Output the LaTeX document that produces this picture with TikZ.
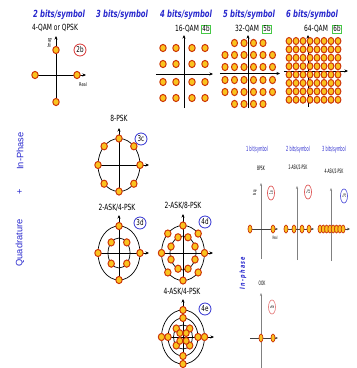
\documentclass[tikz,border=0pt]{standalone}
\usepackage{fontspec}
\usetikzlibrary{arrows.meta,shapes.geometric}
\newfontfamily\nsans[FakeStretch=0.7]{DejaVu Sans}
\newfontfamily\tsans[FakeStretch=0.5]{DejaVu Sans}
\newfontfamily\wsans{Liberation Sans}
\definecolor{ptfill}{RGB}{250,195,30}
\definecolor{ptdraw}{RGB}{205,55,10}
\definecolor{hdblue}{RGB}{40,40,205}
\definecolor{tagred}{RGB}{215,50,50}
\definecolor{tagblue}{RGB}{50,50,210}
\definecolor{taggreen}{RGB}{70,200,70}
\tikzset{
  dot/.style={fill=ptfill,draw=ptdraw,line width=1pt},
  axisarrow/.style={black,line width=0.8pt,-{Stealth[length=3.5pt,width=3pt]}},
  gaxis/.style={gray,line width=0.7pt,-{Stealth[length=3pt,width=2.2pt]}},
  haxis/.style={black!75,line width=1pt,-{Stealth[length=3pt,width=2.5pt]}},
  ring/.style={black,line width=0.7pt},
  header/.style={text=hdblue,font=\nsans\bfseries\itshape\fontsize{9.8}{10}\selectfont,inner sep=0pt},
  lbl/.style={font=\nsans\fontsize{8.5}{9}\selectfont,inner sep=0pt},
  tinylbl/.style={font=\tsans\fontsize{6}{6}\selectfont,inner sep=0pt},
  smallhd/.style={text=hdblue,font=\tsans\fontsize{7}{7}\selectfont,inner sep=0pt},
  ctag/.style={circle,line width=0.8pt,inner sep=0.6pt,minimum size=12pt,font=\nsans\fontsize{8}{8}\selectfont},
  btag/.style={draw=taggreen,line width=0.8pt,inner sep=1pt,font=\nsans\fontsize{8}{8}\selectfont},
  etag/.style={ellipse,line width=0.7pt,inner sep=0pt,minimum width=7pt,minimum height=14pt,font=\tsans\fontsize{5}{5}\selectfont},
  sidetxt/.style={text=hdblue,font=\wsans\fontsize{9.3}{10}\selectfont,rotate=90,inner sep=0pt},
}
\begin{document}
\begin{tikzpicture}[x=1pt,y=-1pt]
\useasboundingbox (0,0) rectangle (357,368);

% column headings
\node[header] (h2) at (59,15) {2 bits/symbol};
\node[header] (h3) at (122,15) {3 bits/symbol};
\node[header] (h4) at (186,15) {4 bits/symbol};
\node[header] (h5) at (249,15) {5 bits/symbol};
\node[header] (h6) at (312,15) {6 bits/symbol};

% side caption
\node[sidetxt] (qd) at (20,243) {Quadrature};
\node[sidetxt] (pl) at (20,192) {+};
\node[sidetxt] (ip) at (20,151) {In-Phase};

% ---- 4-QAM / QPSK
\node[lbl] (l2b) at (55,28) {4-QAM or QPSK};
\draw[axisarrow] (56,106) -- (56,36);
\draw[axisarrow] (35,75) -- (86,75);
\node[font=\nsans\fontsize{5}{5}\selectfont,rotate=90,inner sep=0pt] (im2b) at (49.5,43) {Imag};
\node[font=\nsans\fontsize{5}{5}\selectfont,inner sep=0pt] (re2b) at (83,85) {Real};
\foreach \x/\y in {56/50,35/75,77/75,56/102} \filldraw[dot] (\x,\y) ellipse (3.2pt and 3.6pt);
\node[ctag,draw=tagred] (t2b) at (80,50) {2b};

% ---- 16-QAM
\node[lbl] (l4b) at (187,29) {16-QAM};
\node[btag] (t4b) at (206,29) {4b};
\draw[axisarrow] (184,108) -- (184,35);
\draw[axisarrow] (156,74) -- (213,74);
\foreach \x in {163,176,192,205}
  \foreach \y in {48,64,82,98}
    \filldraw[dot] (\x,\y) ellipse (3.2pt and 3.6pt);

% ---- 32-QAM
\node[lbl] (l5b) at (247,29) {32-QAM};
\node[btag] (t5b) at (267,29) {5b};
\draw[axisarrow] (248,108) -- (248,35);
\draw[axisarrow] (220,73.5) -- (280,73.5);
\foreach \y in {55,67,80,92}
  \foreach \x in {225,234.5,244,253.5,263,272.5}
    \filldraw[dot] (\x,\y) ellipse (3pt and 3.6pt);
\foreach \y in {43,104}
  \foreach \x in {234.5,244,253.5,263}
    \filldraw[dot] (\x,\y) ellipse (3pt and 3.6pt);

% ---- 64-QAM
\node[lbl] (l6b) at (316,29) {64-QAM};
\node[btag] (t6b) at (337,29) {6b};
\draw[axisarrow] (308,107) -- (308,35);
\draw[axisarrow] (284,71) -- (348,71);
\foreach \i in {0,...,7}
  \foreach \j in {0,...,7}
    \filldraw[dot] ({289+7*\i},{41+8.4*\j}) ellipse (2.9pt and 3.5pt);

% ---- 8-PSK
\node[lbl] (l3c) at (119,118) {8-PSK};
\node[ctag,draw=tagblue] (t3c) at (141,139) {3c};
\draw[ring] (119,165) ellipse (21pt and 26.5pt);
\draw[axisarrow] (119,192) -- (119,128);
\draw[axisarrow] (98,165) -- (149,165);
\foreach \a in {0,45,...,315}
  \filldraw[dot] ({119+21*cos(\a)},{165+26.5*sin(\a)}) ellipse (3.2pt and 3.6pt);

% ---- 2-ASK/4-PSK
\node[lbl] (l3d) at (117,208) {2-ASK/4-PSK};
\node[ctag,draw=tagblue] (t3d) at (140,223) {3d};
\draw[ring] (119,253) ellipse (21pt and 27pt);
\draw[ring] (119,253) ellipse (11pt and 15pt);
\draw[axisarrow] (119,280) -- (119,215);
\draw[axisarrow] (98,253) -- (149,253);
\foreach \a in {0,90,180,270}
  \filldraw[dot] ({119+21*cos(\a)},{253+27*sin(\a)}) ellipse (3.2pt and 3.6pt);
\foreach \a in {45,135,225,315}
  \filldraw[dot] ({119+11*cos(\a)},{253+15*sin(\a)}) ellipse (3.2pt and 3.6pt);

% ---- 2-ASK/8-PSK
\node[lbl] (l4d) at (183,206) {2-ASK/8-PSK};
\node[ctag,draw=tagblue] (t4d) at (205,222) {4d};
\draw[ring] (183,253) ellipse (21.5pt and 27.5pt);
\draw[ring] (183,253) ellipse (13pt and 17pt);
\draw[axisarrow] (183,281) -- (183,214);
\draw[axisarrow] (161,253) -- (213,253);
\foreach \a in {0,45,...,315}
  \filldraw[dot] ({183+21.5*cos(\a)},{253+27.5*sin(\a)}) ellipse (3.2pt and 3.6pt);
\foreach \a in {22.5,67.5,...,337.5}
  \filldraw[dot] ({183+13*cos(\a)},{253+17*sin(\a)}) ellipse (3.2pt and 3.6pt);

% ---- 4-ASK/4-PSK
\node[lbl] (l4e) at (182,292) {4-ASK/4-PSK};
\node[ctag,draw=tagblue] (t4e) at (205,309) {4e};
\draw[ring] (183,337) ellipse (21.5pt and 27pt);
\draw[ring] (183,337) ellipse (15pt and 19pt);
\draw[ring] (183,337) ellipse (9.5pt and 12pt);
\draw[axisarrow] (183,364) -- (183,299);
\draw[axisarrow] (162,337) -- (214,337);
\foreach \a in {0,90,180,270}
  \filldraw[dot] ({183+21.5*cos(\a)},{337+27*sin(\a)}) ellipse (3.2pt and 3.6pt);
\foreach \a in {0,90,180,270}
  \filldraw[dot] ({183+15*cos(\a)},{337+19*sin(\a)}) ellipse (3.2pt and 3.6pt);
\foreach \a in {45,135,225,315}
  \filldraw[dot] ({183+9.5*cos(\a)},{337+12*sin(\a)}) ellipse (3.2pt and 3.6pt);
\foreach \a in {45,135,225,315}
  \filldraw[dot] ({183+4.5*cos(\a)},{337+5.5*sin(\a)}) ellipse (3pt and 3.4pt);

% ---- one-dimensional constellations
\node[smallhd] (h1a) at (257,150) {1 bit/symbol};
\node[smallhd] (h2a) at (298,150) {2 bits/symbol};
\node[smallhd] (h3a) at (334,150) {3 bits/symbol};
\node[tinylbl] (l1a) at (261,168) {BPSK};
\node[tinylbl] (l2a) at (298,168) {2-ASK/2-PSK};
\node[tinylbl] (l3a) at (334,172) {4-ASK/2-PSK};

% BPSK
\draw[gaxis] (261,259) -- (261,183);
\node[font=\tsans\fontsize{4.5}{4.5}\selectfont,rotate=90,inner sep=0pt] (im1a) at (255,193) {Imag};
\draw[haxis] (250,229) -- (278,229);
\foreach \x in {250,273} \filldraw[dot,line width=0.7pt] (\x,229) ellipse (2pt and 4pt);
\node[font=\tsans\fontsize{4.5}{4.5}\selectfont,inner sep=0pt] (re1a) at (275,238) {Real};
\node[etag,draw=tagred!80] (t1a) at (271,193) {\rotatebox{90}{1a}};

% 2-ASK/2-PSK
\draw[gaxis] (297,260) -- (297,186);
\draw[haxis] (285,229) -- (314,229);
\foreach \x in {286,294,302,309} \filldraw[dot,line width=0.7pt] (\x,229) ellipse (2pt and 4pt);
\node[etag,draw=tagred!80] (t2a) at (308,192) {\rotatebox{90}{2a}};

% 4-ASK/2-PSK
\draw[gaxis] (331,261) -- (331,188);
\draw[haxis] (318,229) -- (350,229);
\foreach \i in {0,...,7} \filldraw[dot,line width=0.7pt] ({320+3.3*\i},229) ellipse (2pt and 4pt);
\node[etag,draw=tagblue!80] (t3a) at (344,196) {\rotatebox{90}{3a}};

\node[text=hdblue,font=\nsans\bfseries\itshape\fontsize{7}{7}\selectfont,rotate=90,inner sep=0pt] (inph) at (243,273) {I\,n\,-\,p\,h\,a\,s\,e};

% OOK
\node[tinylbl] (l1b) at (262,283) {OOK};
\draw[gaxis] (261,368) -- (261,293);
\draw[haxis] (250,338) -- (278,338);
\foreach \x in {261,273} \filldraw[dot,line width=0.7pt] (\x,338) ellipse (2pt and 4pt);
\node[etag,draw=tagred!60] (t1b) at (272,307) {\rotatebox{90}{1b}};
\end{tikzpicture}
\end{document}
